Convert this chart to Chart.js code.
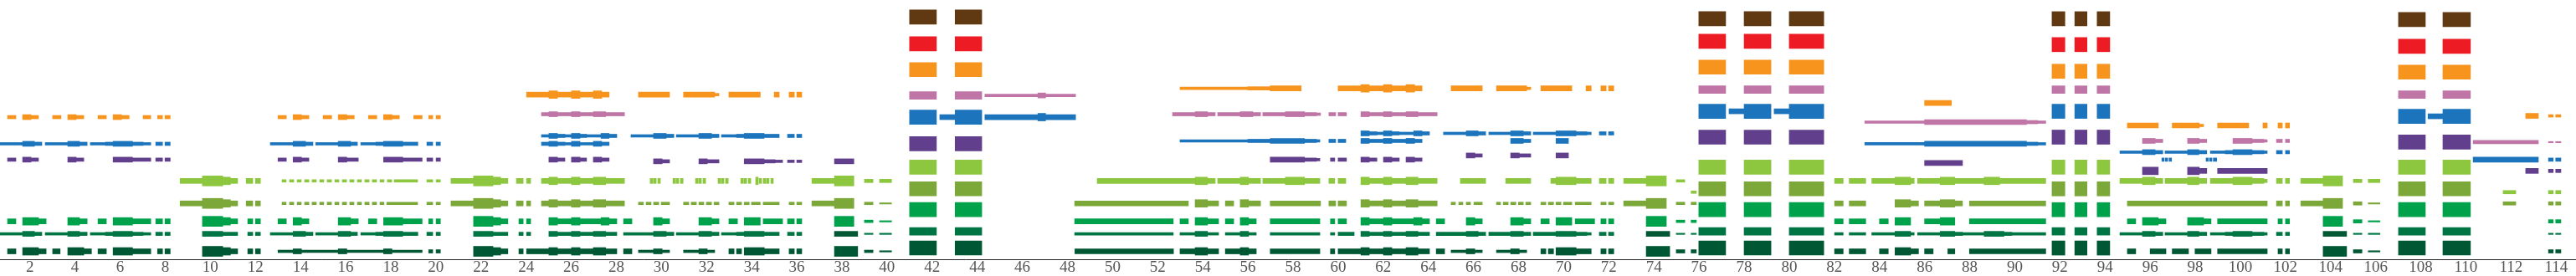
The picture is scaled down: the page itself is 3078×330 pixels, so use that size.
<!DOCTYPE html>
<html lang="es">
<head>
<meta charset="utf-8">
<title>Orquestación por compases</title>
<script src="https://cdn.jsdelivr.net/npm/chart.js@4.4.1/dist/chart.umd.min.js"></script>
<style>
  html, body { margin: 0; padding: 0; background: #fff; }
  #grafico { display: block; }
</style>
</head>
<body>
<canvas id="grafico" width="3078" height="330"></canvas>
<script>
// Compases marcados en el eje
const compases = [2, 4, 6, 8, 10, 12, 14, 16, 18, 20, 22, 24, 26, 28, 30, 32, 34, 36, 38, 40,
  42, 44, 46, 48, 50, 52, 54, 56, 58, 60, 62, 64, 66, 68, 70, 72, 74, 76, 78, 80,
  82, 84, 86, 88, 90, 92, 94, 96, 98, 100, 102, 104, 106, 108, 110, 112, 114];

// Cada pista: carriles con su altura y notas [inicio, fin, dinámica 1..7]
const marron = [
  { altura: 290.5, notas: [[41.00, 42.19, 7], [43.02, 44.20, 7]] },
  { altura: 288.5, notas: [[75.99, 77.18, 7], [78.00, 79.19, 7], [80.00, 81.53, 7], [91.65, 92.22, 7], [92.66, 93.20, 7], [93.65, 94.21, 7]] },
  { altura: 287.5, notas: [[107.01, 108.20, 7], [108.98, 110.20, 7]] }
];

const rojo = [
  { altura: 258.5, notas: [[41.00, 42.19, 7], [43.02, 44.20, 7]] },
  { altura: 261.5, notas: [[75.99, 77.18, 7], [78.00, 79.19, 7], [80.00, 81.53, 7]] },
  { altura: 257.5, notas: [[91.65, 92.22, 7], [92.66, 93.20, 7], [93.65, 94.21, 7]] },
  { altura: 255.5, notas: [[107.01, 108.20, 7], [108.98, 110.20, 7]] }
];

const naranja = [
  { altura: 170.5, notas: [[1.01, 1.38, 3], [1.68, 2.05, 4], [2.05, 2.38, 3], [3.01, 3.38, 3], [3.68, 4.05, 4], [4.05, 4.39, 3],
    [5.02, 5.39, 3], [5.69, 6.06, 4], [6.06, 6.40, 3], [7.02, 7.36, 3], [7.66, 7.88, 3], [7.99, 8.22, 3],
    [13.00, 13.37, 3], [13.67, 14.04, 4], [14.04, 14.37, 3], [15.00, 15.38, 3], [15.67, 16.05, 4], [16.05, 16.38, 3],
    [17.01, 17.38, 3], [17.68, 18.05, 4], [18.05, 18.38, 3], [19.02, 19.39, 3], [19.68, 19.86, 3], [20.01, 20.20, 3]] },
  { altura: 197.5, notas: [[24.02, 25.01, 4], [25.01, 25.39, 5], [25.39, 26.01, 4], [26.01, 26.39, 5], [26.39, 26.98, 4], [26.98, 27.35, 5],
    [27.35, 27.68, 4], [28.98, 30.36, 4], [30.98, 32.36, 4], [32.36, 32.55, 2], [32.99, 34.38, 4], [35.00, 35.22, 4],
    [35.66, 35.89, 4], [36.00, 36.22, 4]] },
  { altura: 227.5, notas: [[41.00, 42.19, 7], [43.02, 44.20, 7]] },
  { altura: 205, notas: [[52.99, 56.00, 2], [56.00, 56.99, 3], [56.99, 58.36, 4], [60.00, 61.01, 4], [61.01, 61.38, 5], [61.38, 62.01, 4],
    [62.01, 62.38, 5], [62.38, 63.01, 4], [63.01, 63.39, 5], [63.39, 63.72, 4], [65.01, 66.39, 4], [67.02, 68.36, 4],
    [68.36, 68.54, 2], [68.99, 70.36, 4], [70.99, 71.22, 4], [71.65, 71.88, 4], [71.99, 72.22, 4]] },
  { altura: 230.5, notas: [[75.99, 77.18, 7], [78.00, 79.19, 7], [80.00, 81.53, 7]] },
  { altura: 187.5, notas: [[86.00, 87.19, 4]] },
  { altura: 225.5, notas: [[91.65, 92.22, 7], [92.66, 93.20, 7], [93.65, 94.21, 7]] },
  { altura: 160.5, notas: [[94.99, 96.36, 4], [96.98, 98.18, 4], [98.18, 98.37, 2], [98.99, 100.37, 4], [101.00, 101.19, 4],
    [101.67, 101.86, 4], [102.00, 102.18, 4]] },
  { altura: 224.5, notas: [[107.01, 108.20, 7], [108.98, 110.20, 7]] },
  { altura: 172, notas: [[112.65, 113.21, 4], [113.66, 113.87, 2], [113.98, 114.21, 2]] }
];

const rosa = [
  { altura: 174, notas: [[24.68, 25.01, 3], [25.01, 25.39, 4], [25.39, 26.01, 3], [26.01, 26.39, 4], [26.39, 26.98, 3], [26.98, 27.53, 4],
    [27.53, 28.36, 3],
    [52.66, 53.66, 3], [53.66, 54.21, 4], [54.21, 54.55, 3], [54.66, 55.66, 3], [55.66, 56.22, 4], [56.22, 56.56, 3],
    [56.66, 57.66, 3], [57.66, 58.51, 4], [58.51, 59.04, 3], [59.04, 59.22, 2], [59.59, 59.89, 3], [60.00, 60.37, 3],
    [61.01, 61.38, 4], [61.38, 62.01, 3], [62.01, 62.38, 4], [62.38, 63.01, 3], [63.01, 63.54, 4], [63.54, 64.39, 3]] },
  { altura: 196.5, notas: [[41.00, 42.19, 5], [43.02, 44.20, 5], [44.34, 46.69, 2], [46.69, 47.03, 4], [47.03, 48.36, 2]] },
  { altura: 203.5, notas: [[75.99, 77.18, 5], [78.00, 79.19, 5], [80.00, 81.53, 5], [91.65, 92.22, 5], [92.66, 93.20, 5], [93.65, 94.21, 5]] },
  { altura: 164.5, notas: [[83.35, 86.00, 2], [86.00, 90.52, 4], [90.52, 91.02, 3], [91.02, 91.37, 2]] },
  { altura: 142, notas: [[95.66, 96.22, 4], [96.22, 96.56, 3], [97.66, 98.18, 4], [98.18, 98.51, 3], [99.67, 100.52, 4],
    [100.52, 101.04, 3], [101.04, 101.19, 2], [101.60, 101.86, 3], [102.00, 102.18, 3]] },
  { altura: 197.5, notas: [[107.01, 108.20, 5], [108.98, 110.20, 5]] },
  { altura: 140.5, notas: [[110.32, 113.21, 3], [113.66, 113.87, 1], [113.98, 114.21, 1]] }
];

const azul = [
  { altura: 138.5, notas: [[0.68, 1.68, 2], [1.68, 2.20, 4], [2.20, 2.53, 3], [2.68, 3.68, 2], [3.68, 4.20, 4], [4.20, 4.54, 3],
    [4.68, 5.35, 2], [5.35, 5.69, 3], [5.69, 6.55, 4], [6.55, 7.02, 3], [7.02, 7.36, 2], [7.58, 7.88, 3], [7.99, 8.22, 3],
    [12.66, 13.67, 2], [13.67, 14.22, 4], [14.22, 14.55, 3], [14.67, 15.67, 2], [15.67, 16.22, 4], [16.22, 16.52, 3],
    [16.67, 17.34, 2], [17.34, 17.68, 3], [17.68, 18.53, 4], [18.53, 19.20, 3], [19.60, 19.86, 3], [20.01, 20.20, 3],
    [24.68, 25.01, 3], [25.01, 25.39, 4], [25.39, 25.72, 3], [25.72, 26.01, 2], [26.01, 26.39, 4], [26.39, 26.98, 2],
    [26.98, 27.35, 4], [27.35, 27.68, 3],
    [83.35, 86.00, 2], [86.00, 90.52, 4], [90.52, 91.02, 3], [91.02, 91.37, 2]] },
  { altura: 148, notas: [[24.68, 25.01, 2], [25.01, 25.39, 4], [25.39, 25.72, 3], [25.72, 26.01, 2], [26.01, 26.39, 4], [26.39, 26.68, 3],
    [26.68, 27.32, 2], [27.32, 27.68, 4], [27.68, 28.02, 3], [28.65, 29.65, 2], [29.65, 30.21, 4], [30.21, 30.55, 3],
    [30.66, 31.66, 2], [31.66, 32.22, 4], [32.22, 32.55, 3], [32.66, 33.33, 2], [33.33, 33.67, 3], [33.67, 34.55, 4],
    [34.55, 35.22, 3], [35.59, 35.89, 3], [36.00, 36.22, 3]] },
  { altura: 170.5, notas: [[41.00, 42.19, 7], [42.34, 43.01, 4], [43.02, 44.20, 7], [44.34, 46.69, 4], [46.69, 47.03, 5], [47.03, 48.36, 4]] },
  { altura: 142, notas: [[52.99, 56.00, 2], [56.00, 56.99, 3], [56.99, 58.51, 4], [58.51, 59.04, 3], [59.04, 59.19, 2], [59.59, 59.89, 3],
    [60.00, 60.34, 3], [61.01, 61.38, 4], [61.38, 62.01, 3], [62.01, 62.38, 4], [62.38, 63.01, 3], [63.01, 63.39, 4],
    [63.39, 63.72, 3], [67.65, 68.21, 4], [68.21, 68.54, 3], [69.66, 70.21, 4]] },
  { altura: 151, notas: [[61.01, 61.38, 4], [61.38, 61.72, 3], [61.72, 62.01, 2], [62.01, 62.38, 4], [62.38, 62.71, 3], [62.71, 63.35, 2],
    [63.35, 63.72, 4], [63.72, 64.05, 3], [64.67, 65.68, 2], [65.68, 66.21, 4], [66.21, 66.54, 3], [66.68, 67.65, 2],
    [67.65, 68.21, 4], [68.21, 68.54, 3], [68.65, 69.66, 2], [69.66, 70.55, 4], [70.55, 71.03, 3], [71.03, 71.22, 2],
    [71.58, 71.88, 3], [71.99, 72.22, 3]] },
  { altura: 177.5, notas: [[75.99, 77.18, 7], [77.33, 78.00, 4], [78.00, 79.19, 7], [79.33, 80.00, 4], [80.00, 81.53, 7],
    [91.65, 92.22, 7], [92.66, 93.20, 7], [93.65, 94.21, 7]] },
  { altura: 128.5, notas: [[94.66, 95.66, 2], [95.66, 96.22, 4], [96.22, 96.56, 3], [96.66, 97.66, 2], [97.66, 98.16, 4], [98.16, 98.51, 3],
    [98.67, 99.33, 2], [99.33, 99.67, 3], [99.67, 100.52, 4], [100.52, 101.04, 3], [101.04, 101.19, 2], [101.60, 101.86, 3],
    [102.00, 102.18, 3]] },
  { altura: 119.5, notas: [[96.52, 96.62, 3], [96.67, 96.78, 3], [96.84, 96.95, 3], [98.48, 98.58, 3], [98.63, 98.74, 3], [98.80, 98.95, 3],
    [110.32, 113.21, 4], [113.66, 113.87, 3], [113.98, 114.21, 3]] },
  { altura: 171.5, notas: [[107.01, 108.20, 7], [108.32, 108.98, 4], [108.98, 110.20, 7]] }
];

const morado = [
  { altura: 119.5, notas: [[1.01, 1.38, 3], [1.68, 2.05, 4], [2.05, 2.38, 3], [3.68, 4.05, 4], [4.05, 4.39, 3], [5.69, 6.55, 4],
    [6.55, 7.36, 3], [7.58, 7.88, 3], [7.99, 8.22, 3], [13.00, 13.37, 3], [13.67, 14.04, 4], [14.04, 14.37, 3],
    [15.67, 16.05, 4], [16.05, 16.56, 3], [17.68, 18.53, 4], [18.53, 19.39, 3], [19.60, 19.86, 3], [20.01, 20.20, 3],
    [25.01, 25.39, 4], [25.39, 25.72, 3], [26.01, 26.39, 4], [26.39, 26.68, 3], [26.98, 27.35, 4], [27.35, 27.68, 3],
    [56.99, 58.51, 4], [58.51, 59.04, 3], [59.04, 59.19, 2], [59.66, 59.85, 3], [60.00, 60.37, 3], [61.01, 61.38, 4],
    [61.38, 61.72, 3], [62.01, 62.38, 4], [62.38, 62.71, 3], [63.01, 63.39, 4], [63.39, 63.72, 3]] },
  { altura: 117.5, notas: [[29.65, 30.03, 4], [30.03, 30.36, 3], [31.66, 32.03, 4], [32.03, 32.55, 3], [33.67, 34.55, 4], [34.55, 35.04, 3],
    [35.04, 35.37, 2], [35.59, 35.89, 2], [36.00, 36.22, 2], [37.67, 38.53, 4]] },
  { altura: 138.5, notas: [[41.00, 42.19, 7], [43.02, 44.20, 7]] },
  { altura: 124.5, notas: [[65.68, 66.06, 4], [66.06, 66.39, 3], [67.65, 68.03, 4], [68.03, 68.54, 3], [69.66, 70.21, 4]] },
  { altura: 146.5, notas: [[75.99, 77.18, 7], [78.00, 79.19, 7], [80.00, 81.53, 7], [91.65, 92.22, 7], [92.66, 93.20, 7], [93.65, 94.21, 7]] },
  { altura: 115.5, notas: [[86.00, 87.68, 4]] },
  { altura: 106, notas: [[95.66, 96.36, 5], [97.66, 98.18, 5], [98.18, 98.51, 4], [98.99, 101.19, 4], [112.65, 113.21, 4],
    [113.66, 113.87, 3], [113.98, 114.21, 3]] },
  { altura: 140.5, notas: [[107.01, 108.20, 7], [108.98, 110.20, 7]] }
];

const lima = [
  { altura: 94, notas: [[8.66, 9.65, 4], [9.65, 10.55, 6], [10.55, 10.89, 5], [10.89, 11.21, 4], [11.59, 11.88, 4], [12.00, 12.22, 4],
    [13.18, 13.36, 2], [13.51, 13.70, 2], [13.85, 14.03, 2], [14.18, 14.37, 2], [14.51, 14.70, 2], [14.85, 15.03, 2],
    [15.18, 15.37, 2], [15.52, 15.70, 2], [15.85, 16.04, 2], [16.18, 16.37, 2], [16.52, 16.70, 2], [16.85, 17.04, 2],
    [17.18, 17.37, 2], [17.52, 17.70, 2], [17.85, 18.04, 2], [18.15, 19.19, 2], [19.60, 19.86, 2], [20.01, 20.20, 2],
    [20.67, 21.67, 4], [21.67, 22.53, 6], [22.53, 22.87, 5], [22.87, 23.19, 4], [23.57, 23.87, 4], [24.02, 24.20, 4],
    [24.68, 25.01, 4], [25.01, 25.39, 5], [25.39, 26.01, 4], [26.01, 26.39, 5], [26.39, 26.98, 4], [26.98, 27.53, 5],
    [27.53, 28.36, 4],
    [29.50, 29.62, 4], [29.65, 29.77, 4], [29.84, 29.95, 4], [30.51, 30.62, 4], [30.65, 30.77, 4], [30.84, 30.96, 4],
    [31.51, 31.62, 4], [31.65, 31.77, 4], [31.84, 31.96, 4], [32.51, 32.62, 4], [32.65, 32.77, 4], [32.84, 32.96, 4],
    [33.52, 33.63, 4], [33.66, 33.78, 4], [33.85, 33.96, 4], [34.18, 34.29, 5], [34.33, 34.44, 4], [34.51, 34.63, 4],
    [34.66, 34.77, 4], [34.85, 34.96, 4],
    [36.67, 37.67, 4], [37.67, 38.53, 6], [39.00, 39.38, 3], [39.67, 40.20, 3],
    [49.32, 53.66, 4], [53.66, 54.21, 5], [54.21, 54.55, 4], [54.66, 55.66, 4], [55.66, 56.03, 5], [56.03, 56.56, 4],
    [56.66, 57.66, 4], [57.66, 58.51, 5], [58.51, 59.19, 4], [59.59, 59.85, 4], [60.00, 60.34, 4], [61.01, 61.38, 5],
    [61.38, 62.01, 4], [62.01, 62.38, 5], [62.38, 63.01, 4], [63.01, 63.54, 5], [63.54, 64.39, 4],
    [65.42, 66.54, 4], [67.43, 68.54, 4], [69.43, 69.66, 4], [69.66, 70.55, 5], [70.55, 71.22, 4], [71.58, 71.88, 4],
    [71.99, 72.22, 4], [72.66, 73.66, 4], [73.66, 74.55, 6], [74.99, 75.37, 2],
    [82.01, 82.39, 4], [82.66, 83.39, 4], [83.66, 84.69, 4], [84.69, 85.38, 5], [85.38, 85.54, 4], [85.69, 86.69, 4],
    [86.69, 87.34, 5], [87.34, 88.64, 4], [88.64, 89.33, 5], [89.33, 91.37, 4],
    [94.66, 95.66, 4], [95.66, 96.22, 5], [96.22, 96.56, 4], [96.66, 97.66, 4], [97.66, 98.16, 5], [98.16, 98.51, 4],
    [98.67, 99.67, 4], [99.67, 100.52, 5], [100.52, 101.04, 4], [101.04, 101.19, 3], [101.60, 101.86, 4], [102.00, 102.18, 4],
    [102.68, 103.67, 4], [103.67, 104.53, 6], [105.01, 105.39, 3], [105.67, 106.19, 3]] },
  { altura: 80.5, notas: [[75.65, 75.88, 2], [111.65, 112.21, 3], [113.66, 113.87, 3], [113.98, 114.21, 3]] },
  { altura: 110.5, notas: [[41.00, 42.19, 7], [43.02, 44.20, 7], [75.99, 77.18, 7], [78.00, 79.19, 7], [80.00, 81.53, 7],
    [91.65, 92.22, 7], [92.66, 93.20, 7], [93.65, 94.21, 7], [107.01, 108.20, 7], [108.98, 110.20, 7]] }
];

const oliva = [
  { altura: 67, notas: [[8.66, 9.65, 4], [9.65, 10.55, 6], [10.55, 10.89, 5], [10.89, 11.21, 4], [11.59, 11.88, 4], [12.00, 12.22, 4],
    [13.18, 13.36, 2], [13.51, 13.70, 2], [13.85, 14.03, 2], [14.18, 14.37, 2], [14.51, 14.70, 2], [14.85, 15.03, 2],
    [15.18, 15.37, 2], [15.52, 15.70, 2], [15.85, 16.04, 2], [16.18, 16.37, 2], [16.52, 16.70, 2], [16.85, 17.04, 2],
    [17.18, 17.37, 2], [17.52, 17.70, 2], [17.82, 19.19, 2], [19.60, 19.86, 2], [20.01, 20.20, 2],
    [20.67, 21.67, 4], [21.67, 22.53, 6], [22.53, 22.87, 5], [22.87, 23.19, 4], [23.57, 23.87, 4], [24.02, 24.20, 4],
    [24.68, 25.01, 4], [25.01, 25.39, 5], [25.39, 26.01, 4], [26.01, 26.39, 5], [26.39, 26.98, 4], [26.98, 27.53, 5],
    [27.53, 28.36, 4],
    [28.98, 29.20, 2], [29.32, 29.54, 2], [29.65, 29.88, 2], [29.99, 30.36, 2], [30.98, 31.21, 2], [31.32, 31.55, 2],
    [31.66, 31.88, 2], [31.99, 32.22, 2], [32.33, 32.55, 2], [32.99, 33.22, 2], [33.33, 33.55, 2], [33.67, 33.89, 2],
    [33.99, 34.38, 2], [34.51, 35.22, 2], [35.66, 35.89, 2], [36.00, 36.22, 2],
    [36.67, 37.67, 4], [37.67, 38.53, 6], [39.00, 39.38, 2], [39.67, 40.20, 1],
    [48.32, 53.36, 4], [53.66, 54.21, 5], [54.21, 54.70, 4], [55.00, 55.37, 4], [55.66, 56.03, 5], [56.03, 56.56, 4],
    [56.99, 59.22, 4], [59.59, 59.89, 4], [60.00, 60.37, 4], [61.01, 61.38, 5], [61.38, 62.01, 4], [62.01, 62.38, 5],
    [62.38, 63.01, 4], [63.01, 63.54, 5], [63.54, 64.39, 4],
    [65.01, 65.20, 2], [65.35, 65.53, 2], [65.68, 65.87, 2], [66.02, 66.39, 2], [67.02, 67.20, 2], [67.32, 67.54, 2],
    [67.65, 67.88, 2], [67.99, 68.21, 2], [68.32, 68.54, 2], [68.99, 69.21, 2], [69.32, 69.55, 2], [69.66, 69.88, 2],
    [69.99, 70.36, 2], [70.51, 71.22, 2], [71.65, 71.88, 2], [71.99, 72.22, 2],
    [72.66, 73.66, 4], [73.66, 74.55, 6], [74.99, 75.37, 2], [75.65, 75.88, 2],
    [82.01, 82.39, 4], [82.66, 83.39, 4], [84.69, 85.38, 5], [85.38, 85.73, 4], [86.00, 86.69, 4], [86.69, 87.34, 5],
    [87.34, 87.68, 4], [87.99, 91.37, 4],
    [94.99, 101.19, 4], [101.60, 101.86, 4], [102.00, 102.18, 4], [102.68, 103.67, 4], [103.67, 104.53, 6],
    [105.01, 105.39, 3], [105.67, 106.19, 1], [111.65, 112.21, 3], [113.66, 113.87, 3], [113.98, 114.21, 3]] },
  { altura: 84.5, notas: [[41.00, 42.19, 7], [43.02, 44.20, 7], [75.99, 77.18, 7], [78.00, 79.19, 7], [80.00, 81.53, 7],
    [91.65, 92.22, 7], [92.66, 93.20, 7], [93.65, 94.21, 7], [107.01, 108.20, 7], [108.98, 110.20, 7]] }
];

const verde = [
  { altura: 45.5, notas: [[1.01, 1.38, 4], [1.68, 2.38, 5], [2.38, 2.72, 4], [3.68, 4.20, 5], [4.20, 4.54, 4], [5.02, 5.39, 4],
    [5.69, 6.55, 5], [6.55, 7.36, 4], [7.58, 7.88, 4], [7.99, 8.22, 4],
    [9.65, 10.55, 6], [10.55, 10.89, 5], [10.89, 11.21, 4], [11.66, 11.88, 4], [12.00, 12.22, 4],
    [13.00, 13.37, 4], [13.67, 14.04, 5], [14.04, 14.37, 4], [15.67, 16.22, 5], [16.22, 16.56, 4], [17.01, 17.38, 4],
    [17.68, 18.53, 5], [18.53, 19.39, 4], [19.68, 19.86, 4], [20.01, 20.20, 4],
    [21.67, 22.53, 6], [22.53, 22.87, 5], [22.87, 23.19, 4], [23.68, 23.87, 4], [24.02, 24.20, 4], [25.01, 25.39, 5],
    [25.39, 26.01, 4], [26.01, 26.39, 5], [26.39, 27.32, 4], [27.32, 27.68, 5], [27.68, 28.02, 4], [28.32, 28.69, 4],
    [29.65, 30.03, 5], [30.03, 30.36, 4], [31.66, 32.22, 5], [32.22, 32.55, 4], [32.99, 33.37, 4], [33.67, 34.38, 5],
    [34.51, 35.37, 4], [35.59, 35.89, 4], [36.00, 36.22, 4],
    [37.67, 38.53, 6], [39.00, 39.38, 2], [39.67, 40.20, 1],
    [48.32, 52.69, 4], [52.99, 53.36, 4], [53.66, 54.21, 5], [54.21, 54.70, 4], [55.00, 55.37, 4], [55.66, 56.03, 5],
    [56.03, 56.37, 4],
    [56.99, 59.19, 4], [59.66, 59.85, 4], [60.00, 60.37, 4], [61.01, 61.38, 5], [61.38, 62.01, 4], [62.01, 62.38, 5],
    [62.38, 63.35, 4], [63.35, 63.72, 5], [63.72, 64.05, 4], [64.35, 64.72, 4],
    [65.68, 66.06, 5], [66.06, 66.39, 4], [67.65, 68.21, 5], [68.21, 68.54, 4], [68.99, 69.36, 4], [69.66, 70.36, 5],
    [70.51, 71.37, 4], [71.65, 71.88, 4], [71.99, 72.22, 4],
    [73.66, 74.55, 6], [74.99, 75.37, 2], [75.65, 75.88, 2],
    [82.01, 82.39, 4], [82.66, 83.39, 4], [84.00, 84.39, 4], [84.69, 85.38, 5], [86.00, 86.69, 4], [86.69, 87.34, 5],
    [87.99, 91.37, 4],
    [94.99, 95.36, 4], [95.66, 96.36, 5], [96.36, 96.70, 4], [97.66, 98.37, 5], [98.37, 98.70, 4], [98.99, 101.19, 4],
    [101.67, 101.86, 4], [102.00, 102.18, 4], [103.67, 104.53, 6], [105.01, 105.39, 3], [105.67, 106.19, 1],
    [113.66, 113.87, 3], [113.98, 114.21, 3]] },
  { altura: 59.5, notas: [[41.00, 42.19, 7], [43.02, 44.20, 7], [75.99, 77.18, 7], [78.00, 79.19, 7], [80.00, 81.53, 7],
    [91.65, 92.22, 7], [92.66, 93.20, 7], [93.65, 94.21, 7], [107.01, 108.20, 7], [108.98, 110.20, 7]] }
];

const turquesa = [
  { altura: 30.5, notas: [[0.68, 1.68, 2], [1.68, 2.20, 4], [2.20, 2.53, 3], [2.68, 3.68, 2], [3.68, 4.20, 4], [4.20, 4.54, 3],
    [4.68, 5.35, 2], [5.35, 5.69, 3], [5.69, 6.55, 4], [6.55, 7.02, 3], [7.02, 7.36, 2], [7.58, 7.88, 3], [7.99, 8.22, 3],
    [9.65, 10.55, 4], [10.55, 11.21, 3], [11.66, 11.88, 3], [12.00, 12.22, 3],
    [12.66, 13.67, 2], [13.67, 14.22, 4], [14.22, 14.55, 3], [14.67, 15.67, 2], [15.67, 16.22, 4], [16.22, 16.52, 3],
    [16.67, 17.34, 2], [17.34, 17.68, 3], [17.68, 18.53, 4], [18.53, 19.20, 3], [19.60, 19.86, 3], [20.01, 20.20, 3],
    [21.67, 22.53, 4], [22.53, 23.19, 3], [23.68, 23.87, 3], [24.02, 24.20, 3], [25.01, 25.39, 4], [25.39, 26.01, 3],
    [26.01, 26.39, 4], [26.39, 26.98, 3], [26.98, 27.53, 4], [27.53, 28.02, 3],
    [28.32, 29.65, 2], [29.65, 30.21, 4], [30.21, 30.55, 3], [30.66, 31.66, 2], [31.66, 32.22, 4], [32.22, 32.55, 3],
    [32.66, 33.33, 2], [33.33, 33.67, 3], [33.67, 34.55, 4], [34.55, 35.22, 3], [35.59, 35.89, 3], [36.00, 36.22, 3],
    [39.00, 39.38, 1], [39.67, 40.20, 1],
    [48.32, 52.69, 2], [52.99, 53.66, 2], [53.66, 54.21, 4], [54.21, 54.70, 2], [55.00, 55.66, 2], [55.66, 56.03, 4],
    [56.03, 56.37, 2],
    [56.99, 59.19, 2], [59.66, 59.85, 2], [60.00, 60.71, 3], [61.01, 61.38, 4], [61.38, 62.01, 3], [62.01, 62.38, 4],
    [62.38, 63.01, 3], [63.01, 63.54, 4], [63.54, 64.05, 3],
    [64.35, 65.68, 3], [65.68, 66.21, 4], [66.21, 66.54, 3], [66.68, 67.65, 3], [67.65, 68.21, 4], [68.21, 68.54, 3],
    [68.65, 69.66, 3], [69.66, 70.55, 4], [70.55, 71.03, 3], [71.03, 71.22, 2], [71.58, 71.88, 3], [71.99, 72.22, 3],
    [74.99, 75.37, 1], [75.65, 75.88, 1],
    [82.01, 82.39, 2], [82.66, 83.39, 2], [83.66, 84.69, 2], [84.69, 85.38, 4], [85.38, 85.54, 2], [85.69, 86.69, 2],
    [86.69, 87.34, 4], [87.34, 87.68, 3], [87.68, 88.64, 2], [88.64, 89.52, 4], [89.52, 89.87, 3], [89.87, 91.37, 2],
    [94.66, 95.66, 2], [95.66, 96.22, 4], [96.22, 96.56, 3], [96.66, 97.66, 2], [97.66, 98.16, 4], [98.16, 98.51, 3],
    [98.67, 99.33, 2], [99.33, 99.67, 3], [99.67, 100.52, 4], [100.52, 101.04, 3], [101.04, 101.19, 2], [101.60, 101.86, 3],
    [102.00, 102.18, 3], [105.01, 105.39, 1], [105.67, 106.19, 1], [113.66, 113.87, 1], [113.98, 114.21, 1]] },
  { altura: 33.5, notas: [[41.00, 42.19, 5], [43.02, 44.20, 5], [75.99, 77.18, 5], [78.00, 79.19, 5], [80.00, 81.53, 5],
    [91.65, 92.22, 5], [92.66, 93.20, 5], [93.65, 94.21, 5], [107.01, 108.20, 5], [108.98, 110.20, 5]] }
];

const bosque = [
  { altura: 9.5, notas: [[1.01, 1.38, 4], [1.68, 2.38, 5], [2.38, 2.72, 4], [3.01, 3.34, 4], [3.68, 4.39, 5], [4.39, 4.73, 4],
    [5.02, 5.39, 4], [5.69, 6.55, 5], [6.55, 7.36, 4], [7.66, 7.88, 4], [7.99, 8.22, 4],
    [9.65, 10.55, 6], [10.55, 10.89, 5], [10.89, 11.21, 4], [11.66, 11.88, 4], [12.00, 12.22, 4],
    [13.00, 13.67, 2], [13.67, 14.04, 4], [14.04, 15.67, 2], [15.67, 16.05, 4], [16.05, 17.68, 2], [17.68, 18.05, 4],
    [18.05, 19.39, 2], [19.68, 19.86, 3], [20.01, 20.20, 3],
    [21.67, 22.53, 6], [22.53, 22.87, 5], [22.87, 23.19, 4], [23.68, 23.87, 4], [24.02, 25.01, 4], [25.01, 25.39, 5],
    [25.39, 26.01, 4], [26.01, 26.39, 5], [26.39, 26.98, 4], [26.98, 27.53, 5], [27.53, 28.02, 4], [28.32, 28.69, 4],
    [28.98, 29.65, 2], [29.65, 30.03, 4], [30.03, 30.36, 2], [30.98, 31.66, 2], [31.66, 32.03, 4], [32.03, 32.36, 2],
    [32.99, 33.22, 4], [33.33, 33.55, 4], [33.67, 34.56, 5], [34.55, 35.22, 4], [35.66, 35.89, 4], [36.00, 36.22, 4],
    [37.67, 38.70, 6], [39.00, 39.38, 2], [39.67, 40.20, 1],
    [48.33, 52.70, 4], [52.99, 53.66, 4], [53.66, 54.21, 5], [54.21, 54.70, 4], [55.00, 55.66, 4], [55.66, 56.03, 5],
    [56.03, 56.37, 4],
    [56.99, 59.19, 4], [59.66, 59.85, 4], [60.00, 61.01, 4], [61.01, 61.38, 5], [61.38, 62.01, 4], [62.01, 62.38, 5],
    [62.38, 63.01, 4], [63.01, 63.54, 5], [63.54, 64.05, 4], [64.35, 64.72, 4],
    [65.01, 65.68, 2], [65.68, 66.06, 4], [66.06, 66.39, 2], [67.02, 67.65, 2], [67.65, 68.03, 4], [68.03, 68.36, 2],
    [68.99, 69.21, 4], [69.32, 69.55, 4], [69.66, 70.55, 5], [70.55, 71.22, 4], [71.65, 71.88, 4], [71.99, 72.22, 4],
    [73.66, 74.70, 6], [74.99, 75.37, 3], [75.65, 75.88, 3],
    [82.01, 82.39, 4], [82.66, 83.39, 4], [84.00, 84.39, 4], [84.69, 85.38, 5], [85.38, 85.73, 4], [86.00, 86.38, 4],
    [87.03, 87.34, 4], [87.99, 91.37, 4],
    [94.99, 95.36, 4], [96.00, 96.70, 4], [96.98, 97.70, 4], [97.99, 98.70, 4], [98.99, 101.19, 4], [101.67, 101.86, 4],
    [102.00, 102.18, 4], [103.67, 104.71, 6], [105.01, 105.39, 3], [105.67, 106.19, 1], [113.66, 113.87, 3],
    [113.98, 114.21, 3]] },
  { altura: 30.5, notas: [[37.67, 38.70, 4], [73.66, 74.70, 4], [103.67, 104.71, 4]] },
  { altura: 13.5, notas: [[41.00, 42.19, 7], [43.02, 44.20, 7], [75.99, 77.18, 7], [78.00, 79.19, 7], [80.00, 81.53, 7],
    [91.65, 92.22, 7], [92.66, 93.20, 7], [93.65, 94.21, 7], [107.01, 108.20, 7], [108.98, 110.20, 7]] }
];

// Nombres de las dinámicas y grosor de trazo (px) que les corresponde
const dinamicas = ['', 'pp', 'p', 'mp', 'mf', 'f', 'ff', 'fff'];
const grosores = [0, 1.5, 3, 4, 6, 9, 12, 17];

const pistas = [
  { nombre: 'marrón', color: '#603913', carriles: marron },
  { nombre: 'rojo', color: '#ed1c24', carriles: rojo },
  { nombre: 'naranja', color: '#f7941d', carriles: naranja },
  { nombre: 'rosa', color: '#bf75a5', carriles: rosa },
  { nombre: 'azul', color: '#1c75bc', carriles: azul },
  { nombre: 'morado', color: '#623f8c', carriles: morado },
  { nombre: 'lima', color: '#8dc63f', carriles: lima },
  { nombre: 'oliva', color: '#7ca83a', carriles: oliva },
  { nombre: 'verde', color: '#00a14b', carriles: verde },
  { nombre: 'turquesa', color: '#007544', carriles: turquesa },
  { nombre: 'bosque', color: '#005734', carriles: bosque }
];

// Un dataset por pista y dinámica (el grosor de barra es fijo por dataset)
function construirDatasets() {
  var datasets = [];
  pistas.forEach(function(pista) {
    for (let nivel = 1; nivel < grosores.length; nivel++) {
      var puntos = [];
      pista.carriles.forEach(function(carril) {
        carril.notas.forEach(function(nota) {
          if (nota[2] === nivel) puntos.push({ x: [nota[0], nota[1]], y: carril.altura });
        });
      });
      if (puntos.length === 0) continue;
      datasets.push({
        label: pista.nombre + ' ' + dinamicas[nivel],
        data: puntos,
        backgroundColor: pista.color,
        borderWidth: 0,
        barThickness: grosores[nivel],
        grouped: false
      });
    }
  });
  return datasets;
}

document.addEventListener('DOMContentLoaded', function() {
  var ctx = document.getElementById('grafico').getContext('2d');
  window.instanciaGrafico = new Chart(ctx, {
    type: 'bar',
    data: { datasets: construirDatasets() },
    options: {
      indexAxis: 'y',
      responsive: false,
      animation: false,
      layout: { padding: 0 },
      plugins: {
        legend: { display: false },
        tooltip: { enabled: false }
      },
      scales: {
        x: {
          type: 'linear',
          min: 0.675,
          max: 114.88,
          offset: false,
          grid: { display: false, drawTicks: false, tickLength: 0 },
          border: { display: true, color: '#222', width: 1 },
          afterBuildTicks: function(eje) {
            eje.ticks = compases.map(function(c) { return { value: c }; });
          },
          ticks: {
            autoSkip: false,
            maxRotation: 0,
            padding: 1,
            color: '#555',
            font: { family: "'Liberation Serif', serif", size: 19, lineHeight: '18px' }
          }
        },
        y: {
          type: 'linear',
          min: 0,
          max: 311,
          offset: false,
          display: false
        }
      }
    }
  });
});
</script>
</body>
</html>
